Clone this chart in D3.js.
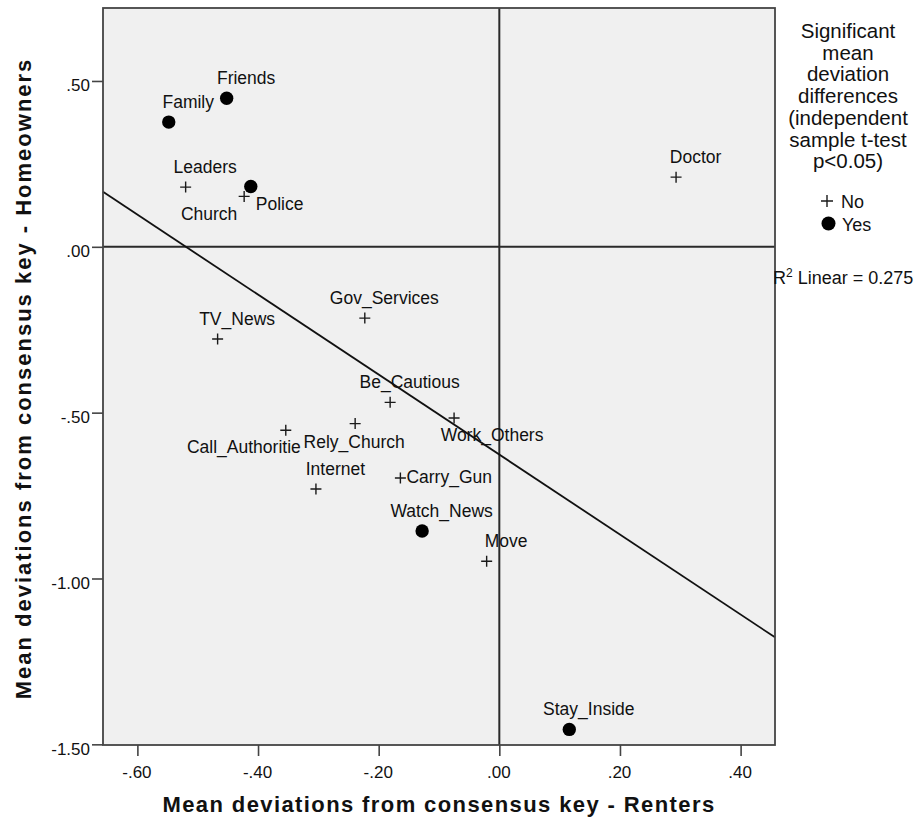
<!DOCTYPE html>
<html>
<head>
<meta charset="utf-8">
<script src="https://cdn.jsdelivr.net/npm/d3@7/dist/d3.min.js"></script>
<style>
  html, body { margin: 0; padding: 0; background: #ffffff; }
  svg { display: block; font-family: "Liberation Sans", Arial, sans-serif; }
</style>
</head>
<body>
<svg id="chart" width="920" height="823"></svg>
<script>
// Response items and their mean deviations from the consensus key
const items = ["Family", "Friends", "Leaders", "Police", "Church", "Doctor",
  "Gov_Services", "TV_News", "Be_Cautious", "Work_Others", "Rely_Church",
  "Call_Authoritie", "Internet", "Carry_Gun", "Watch_News", "Move", "Stay_Inside"];
const renters = [-0.548, -0.452, -0.520, -0.412, -0.423, 0.293,
  -0.223, -0.467, -0.181, -0.075, -0.239,
  -0.354, -0.304, -0.164, -0.128, -0.021, 0.116];
const homeowners = [0.376, 0.448, 0.180, 0.182, 0.152, 0.210,
  -0.215, -0.278, -0.469, -0.516, -0.533,
  -0.553, -0.730, -0.697, -0.857, -0.948, -1.455];
// Significant mean deviation difference (independent sample t-test p<0.05)
const significant = [true, true, false, true, false, false,
  false, false, false, false, false,
  false, false, false, true, false, true];

const xTickValues = [-0.6, -0.4, -0.2, 0, 0.2, 0.4];
const xTickLabels = ["-.60", "-.40", "-.20", ".00", ".20", ".40"];
const yTickValues = [0.5, 0, -0.5, -1.0, -1.5];
const yTickLabels = [".50", ".00", "-.50", "-1.00", "-1.50"];

const legendTitle = ["Significant", "mean", "deviation", "differences",
  "(independent", "sample t-test", "p<0.05)"];
const legendKeys = ["No", "Yes"];
const rSquared = 0.275;

const xDomain = [-0.657, 0.457];
const yDomain = [-1.502, 0.72];

const svg = d3.select("#chart");
const plot = { left: 103, right: 775, top: 8, bottom: 745 };

const x = d3.scaleLinear().domain(xDomain).range([plot.left, plot.right]);
const y = d3.scaleLinear().domain(yDomain).range([plot.bottom, plot.top]);

const points = items.map((name, i) => ({
  name, rx: renters[i], hy: homeowners[i], sig: significant[i]
}));

// plot background
svg.append("rect")
  .attr("x", plot.left).attr("y", plot.top)
  .attr("width", plot.right - plot.left).attr("height", plot.bottom - plot.top)
  .attr("fill", "#f0f0f0");

// axes
const xAxis = d3.axisBottom(x).tickValues(xTickValues)
  .tickFormat((d, i) => xTickLabels[i]).tickSize(11).tickSizeOuter(0);
const gx = svg.append("g").attr("transform", `translate(0,${plot.bottom})`).call(xAxis);
gx.select(".domain").remove();
gx.selectAll(".tick line").attr("stroke", "#444").attr("stroke-width", 1.6);
gx.selectAll(".tick text").attr("font-size", 17).attr("fill", "#111")
  .attr("y", 33).attr("dy", 0).attr("dx", -1);

const yAxis = d3.axisLeft(y).tickValues(yTickValues)
  .tickFormat((d, i) => yTickLabels[i]).tickSize(11).tickSizeOuter(0);
const gy = svg.append("g").attr("transform", `translate(${plot.left},0)`).call(yAxis);
gy.select(".domain").remove();
gy.selectAll(".tick line").attr("stroke", "#444").attr("stroke-width", 1.6);
gy.selectAll(".tick text").attr("font-size", 17).attr("fill", "#111")
  .attr("x", -13).attr("dy", 0).attr("y", 10);

// reference lines through zero
svg.append("line")
  .attr("x1", x(0)).attr("x2", x(0)).attr("y1", plot.top).attr("y2", plot.bottom)
  .attr("stroke", "#2a2a2a").attr("stroke-width", 2);
svg.append("line")
  .attr("x1", plot.left).attr("x2", plot.right).attr("y1", y(0)).attr("y2", y(0))
  .attr("stroke", "#2a2a2a").attr("stroke-width", 2);

// least-squares fit line (homeowners on renters)
const mx = d3.mean(renters), my = d3.mean(homeowners);
const sxy = d3.sum(renters, (v, i) => (v - mx) * (homeowners[i] - my));
const sxx = d3.sum(renters, v => (v - mx) * (v - mx));
const slope = sxy / sxx;
const intercept = my - slope * mx;
svg.append("line")
  .attr("x1", x(xDomain[0])).attr("y1", y(intercept + slope * xDomain[0]))
  .attr("x2", x(xDomain[1])).attr("y2", y(intercept + slope * xDomain[1]))
  .attr("stroke", "#111").attr("stroke-width", 1.8);

// frame
svg.append("rect")
  .attr("x", plot.left).attr("y", plot.top)
  .attr("width", plot.right - plot.left).attr("height", plot.bottom - plot.top)
  .attr("fill", "none").attr("stroke", "#444").attr("stroke-width", 1.8);

// markers
const plusPath = "M-5.5,0H5.5M0,-5.5V5.5";
const marks = svg.append("g");
marks.selectAll("path.no").data(points.filter(p => !p.sig)).join("path")
  .attr("class", "no")
  .attr("d", plusPath)
  .attr("transform", d => `translate(${x(d.rx)},${y(d.hy)})`)
  .attr("stroke", "#1a1a1a").attr("stroke-width", 1.4).attr("fill", "none");
marks.selectAll("circle.yes").data(points.filter(p => p.sig)).join("circle")
  .attr("class", "yes")
  .attr("cx", d => x(d.rx)).attr("cy", d => y(d.hy)).attr("r", 6.7)
  .attr("fill", "#000");

// point labels: centred above the marker unless moved to keep clear of neighbours
const labelDefault = { dx: 19.5, dy: -14, anchor: "middle" };
const labelMoves = {
  Police: { dx: 5, dy: 24, anchor: "start" },
  Church: { dx: -35, dy: 23.5, anchor: "middle" },
  Work_Others: { dx: 38, dy: 23.5, anchor: "middle" },
  Rely_Church: { dx: -1, dy: 24, anchor: "middle" },
  Call_Authoritie: { dx: 15, dy: 23, anchor: "end" },
  Carry_Gun: { dx: 6, dy: 5.5, anchor: "start" }
};
svg.append("g").selectAll("text").data(points).join("text")
  .each(function (d) {
    const o = labelMoves[d.name] || labelDefault;
    d3.select(this)
      .attr("x", x(d.rx) + o.dx).attr("y", y(d.hy) + o.dy)
      .attr("text-anchor", o.anchor);
  })
  .attr("font-size", 17.5).attr("fill", "#111")
  .text(d => d.name);

// axis titles
svg.append("text")
  .attr("x", (plot.left + plot.right) / 2).attr("y", 812)
  .attr("text-anchor", "middle").attr("font-size", 22).attr("font-weight", "bold")
  .attr("letter-spacing", 1.4).attr("fill", "#111")
  .text("Mean deviations from consensus key - Renters");
svg.append("text")
  .attr("transform", `translate(31,${(plot.top + plot.bottom) / 2 + 2}) rotate(-90)`)
  .attr("text-anchor", "middle").attr("font-size", 22).attr("font-weight", "bold")
  .attr("letter-spacing", 2).attr("fill", "#111")
  .text("Mean deviations from consensus key - Homeowners");

// legend
const legend = svg.append("g");
legend.selectAll("text.title").data(legendTitle).join("text")
  .attr("class", "title")
  .attr("x", 848).attr("y", (d, i) => 38 + i * 21.7)
  .attr("text-anchor", "middle").attr("font-size", 20.5).attr("fill", "#111")
  .text(d => d);
legend.append("path").attr("d", "M-6,0H6M0,-6V6")
  .attr("transform", "translate(827,201)")
  .attr("stroke", "#1a1a1a").attr("stroke-width", 1.4).attr("fill", "none");
legend.append("text").attr("x", 841).attr("y", 207.5)
  .attr("font-size", 18).attr("fill", "#111").text(legendKeys[0]);
legend.append("circle").attr("cx", 828.5).attr("cy", 223.5).attr("r", 7).attr("fill", "#000");
legend.append("text").attr("x", 842).attr("y", 231)
  .attr("font-size", 18).attr("fill", "#111").text(legendKeys[1]);

// fit statistic
const rText = svg.append("text").attr("x", 773).attr("y", 283.5)
  .attr("font-size", 18).attr("fill", "#111");
rText.append("tspan").text("R");
rText.append("tspan").attr("font-size", 12).attr("dy", -7).text("2");
rText.append("tspan").attr("dy", 7).text(" Linear = " + rSquared.toFixed(3));
</script>
</body>
</html>
